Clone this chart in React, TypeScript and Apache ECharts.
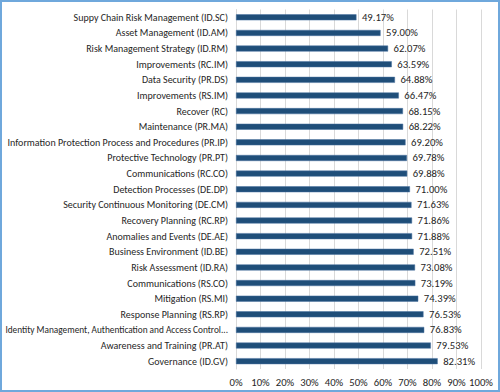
import React, { useEffect, useRef } from "react";
import * as echarts from "echarts";

const categories: string[] = [
  "Suppy Chain Risk Management (ID.SC)",
  "Asset Management (ID.AM)",
  "Risk Management Strategy (ID.RM)",
  "Improvements (RC.IM)",
  "Data Security (PR.DS)",
  "Improvements (RS.IM)",
  "Recover (RC)",
  "Maintenance (PR.MA)",
  "Information Protection Process and Procedures (PR.IP)",
  "Protective Technology (PR.PT)",
  "Communications (RC.CO)",
  "Detection Processes (DE.DP)",
  "Security Continuous Monitoring (DE.CM)",
  "Recovery Planning (RC.RP)",
  "Anomalies and Events (DE.AE)",
  "Business Environment (ID.BE)",
  "Risk Assessment (ID.RA)",
  "Communications (RS.CO)",
  "Mitigation (RS.MI)",
  "Response Planning (RS.RP)",
  "Identity Management, Authentication and Access Control (PR.AC)",
  "Awareness and Training (PR.AT)",
  "Governance (ID.GV)",
];

const values: number[] = [
  49.17, 59.0, 62.07, 63.59, 64.88, 66.47, 68.15, 68.22, 69.2, 69.78, 69.88,
  71.0, 71.63, 71.86, 71.88, 72.51, 73.08, 73.19, 74.39, 76.53, 76.83, 79.53,
  82.31,
];

const FONT = "Carlito, 'Liberation Sans', sans-serif";

export default function App() {
  const ref = useRef<HTMLDivElement>(null);
  useEffect(() => {
    if (!ref.current) return;
    const chart = echarts.init(ref.current, undefined, { renderer: "svg" });
    const catData = categories.map((c) =>
      c.length > 55 ? { value: c, textStyle: { fontSize: 9.29 } } : c
    );
    chart.setOption({
      animation: false,
      grid: {
        left: 234,
        right: 17,
        top: 7.5,
        bottom: 21,
        containLabel: false,
        outerBoundsMode: "none",
      },
      xAxis: {
        type: "value",
        min: 0,
        max: 100,
        interval: 10,
        axisLabel: {
          formatter: "{value}%",
          color: "#262626",
          fontFamily: FONT,
          fontSize: 10.67,
          margin: 8,
        },
        axisLine: { show: false },
        axisTick: { show: false },
        splitLine: { lineStyle: { color: "#D9D9D9", width: 1 } },
      },
      yAxis: {
        type: "category",
        inverse: true,
        data: catData,
        axisLine: { show: true, lineStyle: { color: "#D9D9D9", width: 1 } },
        axisTick: { show: false },
        axisLabel: {
          color: "#262626",
          fontFamily: FONT,
          fontSize: 10,
          margin: 8,
          width: 225,
          overflow: "truncate",
          ellipsis: "...",
        },
      },
      series: [
        {
          type: "bar",
          data: values,
          barWidth: 6,
          itemStyle: {
            color: "#1F4E79",
            borderColor: "#4A72A0",
            borderWidth: 0.5,
          },
          label: {
            show: true,
            position: "right",
            distance: 5.5,
            formatter: (p: any) => p.value.toFixed(2) + "%",
            color: "#262626",
            fontFamily: FONT,
            fontSize: 10.67,
          },
        },
      ],
    });
    return () => chart.dispose();
  }, []);
  return (
    <div
      style={{
        position: "fixed",
        left: 0,
        top: 0,
        width: 500,
        height: 392,
        boxSizing: "border-box",
        border: "2px solid #6FA8DC",
        background: "#fff",
      }}
    >
      <div ref={ref} style={{ width: 496, height: 388 }} />
    </div>
  );
}
